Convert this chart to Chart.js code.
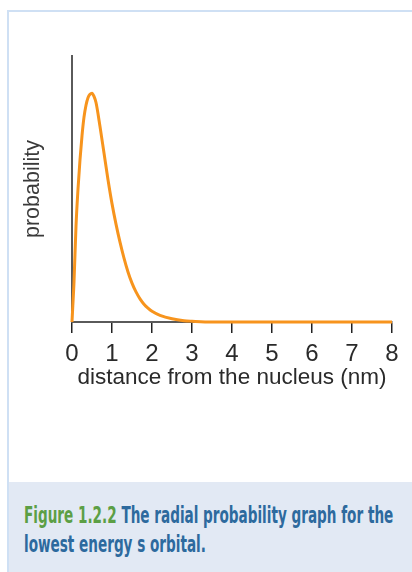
<!DOCTYPE html>
<html>
<head>
<meta charset="utf-8">
<script src="https://cdn.jsdelivr.net/npm/chart.js@4.4.1/dist/chart.umd.min.js"></script>
<style>
  html, body { margin: 0; padding: 0; width: 412px; height: 572px; overflow: hidden; background: #fff; }
  .frame { position: absolute; left: 7px; top: 10px; width: 440px; height: 600px; border: 2px solid #cfe0f4; border-right: none; border-bottom: none; box-sizing: border-box; }
  .caption { position: absolute; left: 9px; top: 482px; width: 440px; height: 90px; background: #e2e9f4; }
  .cap-line { position: absolute; left: 24px; white-space: nowrap; font-family: "Liberation Sans Narrow", "DejaVu Sans Condensed", "Liberation Sans", sans-serif; font-size: 23px; font-weight: bold; color: #2d6a9e; transform-origin: 0 0; }
  .cap-line .fig { color: #5c9f45; }
  #chart { position: absolute; left: 0; top: 0; }
</style>
</head>
<body>
<div class="frame"></div>
<div class="caption"></div>
<div class="cap-line" id="cap1" style="top:502px"><span class="fig">Figure 1.2.2</span> The radial probability graph for the</div>
<div class="cap-line" id="cap2" style="top:531px">lowest energy s orbital.</div>
<canvas id="chart" width="412" height="400"></canvas>
<script>
// distance from nucleus (nm) and relative probability
const radius = [0, 0.02, 0.05, 0.1, 0.15, 0.2, 0.25, 0.3, 0.35, 0.4, 0.45, 0.5, 0.55, 0.6, 0.7, 0.8, 0.9, 1.0, 1.1, 1.2, 1.3, 1.4, 1.5, 1.6, 1.7, 1.8, 1.9, 2.0, 2.2, 2.5, 2.8, 3.0, 3.5, 4, 5, 6, 7, 8];
const probability = [0, 6, 15, 36, 50, 61, 70, 77, 81.5, 84.3, 85.6, 86, 84.8, 82.5, 73.5, 63.5, 53.5, 44.5, 36.8, 30, 24, 18.8, 14.6, 11.3, 8.7, 6.7, 5.2, 4, 2.5, 1.2, 0.5, 0.3, 0, 0, 0, 0, 0, 0];
const xTicks = [0, 1, 2, 3, 4, 5, 6, 7, 8];

// squeeze the caption to the width of the original condensed type
const cap1 = document.getElementById('cap1');
const cap2 = document.getElementById('cap2');
const k = 369 / cap1.scrollWidth;
cap1.style.transform = 'scaleX(' + k + ')';
cap2.style.transform = 'scaleX(' + k + ')';

const points = radius.map((r, i) => ({ x: r, y: probability[i] }));

new Chart(document.getElementById('chart'), {
  type: 'line',
  data: {
    datasets: [{
      data: points,
      borderColor: '#f7941d',
      borderWidth: 3,
      pointRadius: 0,
      cubicInterpolationMode: 'monotone',
      clip: false,
      fill: false,
    }],
  },
  options: {
    responsive: false,
    animation: false,
    layout: { padding: { top: 56, right: 20, left: 0, bottom: 0 } },
    plugins: { legend: { display: false }, tooltip: { enabled: false } },
    scales: {
      x: {
        type: 'linear',
        min: 0,
        max: 8,
        afterBuildTicks: s => { s.ticks = xTicks.map(v => ({ value: v })); },
        afterFit: s => { s.height = 78; },
        grid: { display: true, drawOnChartArea: false, drawTicks: true, tickLength: 11, tickColor: '#222', lineWidth: 1.5 },
        border: { display: true, color: '#5a5a5a', width: 2 },
        ticks: { color: '#2a2a2a', padding: 7, font: { family: 'Liberation Sans, Arial, sans-serif', size: 24 } },
        title: {
          display: true,
          text: 'distance from the nucleus (nm)',
          color: '#2a2a2a',
          font: { family: 'Liberation Sans, Arial, sans-serif', size: 22.5 },
          padding: { top: 0, bottom: 9 },
        },
      },
      y: {
        min: 0,
        max: 100,
        afterFit: s => { s.width = 72; },
        grid: { display: false },
        border: { display: true, color: '#5a5a5a', width: 2 },
        ticks: { display: false },
        title: {
          display: true,
          text: 'probability',
          color: '#3a3a3a',
          font: { family: 'Liberation Sans, Arial, sans-serif', size: 21.5 },
          padding: { top: 20, bottom: 0 },
        },
      },
    },
  },
});
</script>
</body>
</html>
